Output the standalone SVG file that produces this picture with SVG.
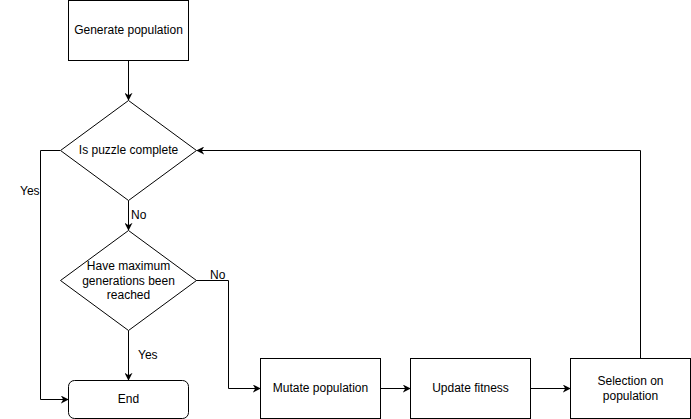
<svg xmlns="http://www.w3.org/2000/svg" width="691" height="419" viewBox="0 0 691 419">
<defs>
<marker id="arr" viewBox="0 0 10 10" refX="9" refY="5" markerWidth="8" markerHeight="8" markerUnits="userSpaceOnUse" orient="auto">
<path d="M0,0 L10,5 L0,10 L3,5 Z" fill="#000"/>
</marker>
</defs>
<style>
.s{fill:#fff;stroke:#000;stroke-width:1}
.t{font-family:"Liberation Sans",Arial,sans-serif;font-size:12px;fill:#000;text-anchor:middle}
.l{font-family:"Liberation Sans",Arial,sans-serif;font-size:12px;fill:#000}
.c{fill:none;stroke:#000;stroke-width:1;marker-end:url(#arr)}
</style>
<rect width="691" height="419" fill="#fff"/>
<g id="connectors">
<path class="c" d="M128.5,60.5 L128.5,100"/>
<path class="c" d="M60,150.5 L40.5,150.5 L40.5,399.5 L68,399.5"/>
<path class="c" d="M128.5,200.5 L128.5,230"/>
<path class="c" d="M196,280.5 L228.5,280.5 L228.5,388.5 L260,388.5"/>
<path class="c" d="M128.5,330.5 L128.5,380"/>
<path class="c" d="M380.5,388.5 L410,388.5"/>
<path class="c" d="M530.5,388.5 L570,388.5"/>
<path class="c" d="M640.5,358.5 L640.5,150.5 L197,150.5"/>
<text class="l" x="20" y="195">Yes</text>
<text class="l" x="131" y="219">No</text>
<text class="l" x="210" y="279">No</text>
<text class="l" x="138" y="359">Yes</text>
</g>
<g id="generate">
<rect class="s" x="68.5" y="0.5" width="120" height="60"/>
<text class="t" x="128.5" y="34">Generate population</text>
</g>
<g id="complete">
<path class="s" d="M128.5,100.5 L196.5,150.5 L128.5,200.5 L60.5,150.5 Z"/>
<text class="t" x="128.5" y="154">Is puzzle complete</text>
</g>
<g id="maxgen">
<path class="s" d="M128.5,230.5 L196.5,280.5 L128.5,330.5 L60.5,280.5 Z"/>
<text class="t" x="128.5" y="270">Have maximum</text>
<text class="t" x="128.5" y="285">generations been</text>
<text class="t" x="128.5" y="299">reached</text>
</g>
<g id="end">
<rect class="s" x="68.5" y="380.5" width="120" height="38" rx="6" ry="6"/>
<text class="t" x="128.5" y="403">End</text>
</g>
<g id="mutate">
<rect class="s" x="260.5" y="358.5" width="120" height="60"/>
<text class="t" x="320.5" y="392">Mutate population</text>
</g>
<g id="fitness">
<rect class="s" x="410.5" y="358.5" width="120" height="60"/>
<text class="t" x="470.5" y="392">Update fitness</text>
</g>
<g id="selection">
<rect class="s" x="570.5" y="358.5" width="120" height="60"/>
<text class="t" x="630.5" y="385">Selection on</text>
<text class="t" x="630.5" y="400">population</text>
</g>
</svg>
